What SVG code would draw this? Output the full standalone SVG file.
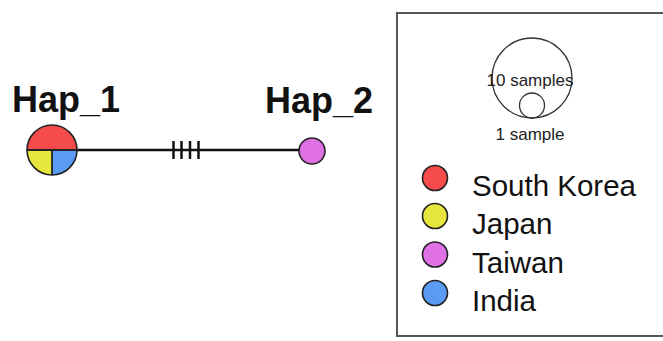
<svg xmlns="http://www.w3.org/2000/svg" width="663" height="341" viewBox="0 0 663 341">
<style>
.lbl{font-family:"Liberation Sans",Arial,sans-serif;font-weight:bold;font-size:36px;fill:#111}
.leg{font-family:"Liberation Sans",Arial,sans-serif;font-size:29.5px;fill:#111}
.sz{font-family:"Liberation Sans",Arial,sans-serif;font-size:17px;fill:#222}
.node{stroke:#222;stroke-width:1.6}
.ring{fill:none;stroke:#333;stroke-width:1.3}
.edge{stroke:#111;stroke-width:2.5;fill:none}
.red{fill:#F54B4B}.yel{fill:#E6E63C}.mag{fill:#E070E6}.blu{fill:#5A9BF5}
</style>
<rect width="663" height="341" fill="#fff"/>
<g id="connectors">
<line class="edge" x1="52" y1="150" x2="299" y2="150"/>
<line class="edge" x1="173.5" y1="141" x2="173.5" y2="159"/>
<line class="edge" x1="181.5" y1="141" x2="181.5" y2="159"/>
<line class="edge" x1="190" y1="141" x2="190" y2="159"/>
<line class="edge" x1="198.5" y1="141" x2="198.5" y2="159"/>
</g>
<g id="hap1">
<path class="red" d="M27,150 A25,25 0 0 1 77,150 Z"/>
<path class="yel" d="M52,150 L27,150 A25,25 0 0 0 52,175 Z"/>
<path class="blu" d="M52,150 L52,175 A25,25 0 0 0 77,150 Z"/>
<circle class="node" cx="52" cy="150" r="25" fill="none"/>
<line x1="27" y1="150" x2="77" y2="150" stroke="#222" stroke-width="2"/>
<line x1="52" y1="150" x2="52" y2="175" stroke="#222" stroke-width="1.8"/>
<text class="lbl" x="12" y="112">Hap_1</text>
</g>
<g id="hap2">
<circle class="node mag" cx="312" cy="151" r="13"/>
<text class="lbl" x="265" y="113">Hap_2</text>
</g>
<g id="legend">
<rect x="397" y="13" width="270" height="323" fill="none" stroke="#555" stroke-width="2"/>
<circle class="ring" cx="532" cy="78" r="40"/>
<circle class="ring" cx="532" cy="105.5" r="12.5"/>
<text class="sz" x="530" y="86" text-anchor="middle">10 samples</text>
<text class="sz" x="530" y="140" text-anchor="middle">1 sample</text>
<circle class="node red" cx="435" cy="178" r="12.5"/>
<circle class="node yel" cx="435" cy="216" r="12.5"/>
<circle class="node mag" cx="435" cy="254.5" r="12.5"/>
<circle class="node blu" cx="435" cy="293" r="12.5"/>
<text class="leg" x="472" y="196">South Korea</text>
<text class="leg" x="472" y="234">Japan</text>
<text class="leg" x="472" y="272.5">Taiwan</text>
<text class="leg" x="472" y="310.5">India</text>
</g>
</svg>
